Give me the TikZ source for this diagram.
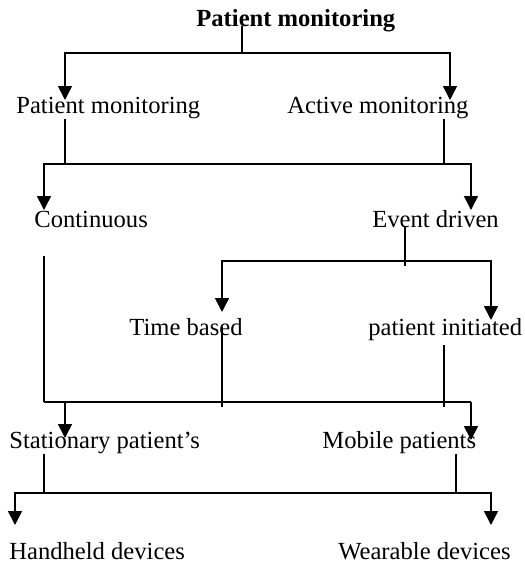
\documentclass[tikz,border=0pt]{standalone}
\usepackage{fontspec}
\setmainfont{Liberation Serif}
\usetikzlibrary{arrows.meta,positioning}
\tikzstyle{lbl} = [anchor=base west, inner sep=0pt, font=\fontsize{12.3}{15}\selectfont]
\tikzstyle{arrow} = [line width=0.8pt,-{Triangle[width=7pt,length=7pt]}]
\tikzstyle{line} = [line width=0.8pt]

\begin{document}
\begin{tikzpicture}[x=0.5pt,y=-0.5pt]
  \useasboundingbox (0,0) rectangle (525,564);

  % labels
  \node[lbl,font=\fontsize{12.3}{15}\selectfont\bfseries] (title) at (196,26) {Patient monitoring};
  \node[lbl] (pm)   at (16,113)  {Patient monitoring};
  \node[lbl] (am)   at (287,113) {Active monitoring};
  \node[lbl] (cont) at (34,227)  {Continuous};
  \node[lbl] (evd)  at (372,227) {Event driven};
  \node[lbl] (tb)   at (129,335) {Time based};
  \node[lbl] (pi)   at (368,335) {patient initiated};
  \node[lbl] (stat) at (9,448)   {Stationary patient's};
  \node[lbl] (mob)  at (322,448) {Mobile patients};
  \node[lbl] (hand) at (9,559)   {Handheld devices};
  \node[lbl] (wear) at (338,559) {Wearable devices};

  % junctions and arrow tips
  \coordinate (j1) at (242,53);
  \coordinate (pmin) at (65,100);
  \coordinate (amin) at (450,100);
  \coordinate (s1) at (65,164);
  \coordinate (s2) at (444,164);
  \coordinate (contin) at (44,210);
  \coordinate (evdin) at (471,210);
  \coordinate (j3) at (405,261);
  \coordinate (j3e) at (405,266);
  \coordinate (tbin) at (222,312);
  \coordinate (piin) at (491,320);
  \coordinate (c0) at (44,256);
  \coordinate (c1) at (44,402);
  \coordinate (tbe) at (222,407);
  \coordinate (pie) at (444,407);
  \coordinate (j4) at (471,402);
  \coordinate (statin) at (65,438);
  \coordinate (mobin) at (471,440);
  \coordinate (s5) at (44,493);
  \coordinate (s6) at (456,493);
  \coordinate (handin) at (15,525);
  \coordinate (wearin) at (491,525);

  % level 1
  \draw[line] (title.base -| j1) -- (j1);
  \draw[arrow] (j1) -| (pmin);
  \draw[arrow] (j1) -| (amin);

  % level 2
  \draw[line] (pm.south -| s1) -- (s1);
  \draw[line] (am.south -| s2) -- (s2);
  \draw[arrow] (s2) -- (s1) -| (contin);
  \draw[arrow] (s2) -| (evdin);

  % level 3
  \draw[line] (evd.base -| j3) -- (j3e);
  \draw[arrow] (j3) -| (tbin);
  \draw[arrow] (j3) -| (piin);

  % level 4
  \draw[line] (c0) -- (c1);
  \draw[line] ([yshift=4pt]tb.base -| tbe) -- (tbe);
  \draw[line] ([yshift=-2pt]pi.south -| pie) -- (pie);
  \draw[line] (c1) -- (j4);
  \draw[arrow] (c1 -| statin) -- (statin);
  \draw[arrow] (j4) -- (mobin);

  % level 5
  \draw[line] (stat.south -| s5) -- (s5);
  \draw[line] (mob.south -| s6) -- (s6);
  \draw[arrow] (s6) -| (wearin);
  \draw[arrow] (s6) -- (s5) -| (handin);
\end{tikzpicture}
\end{document}
